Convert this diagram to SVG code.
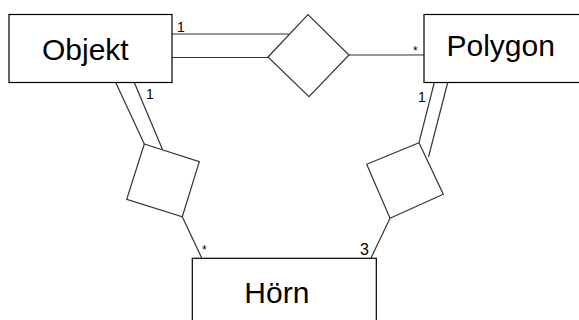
<svg xmlns="http://www.w3.org/2000/svg" width="579" height="320" viewBox="0 0 579 320">
<style>
.box{fill:#fff;stroke:#000;stroke-width:1.2}
.rel{fill:#fff;stroke:#333;stroke-width:1.2}
.ln{fill:none;stroke:#333;stroke-width:1.2}
.lbl{font-family:"Liberation Sans",Arial,sans-serif;font-size:30px;fill:#000}
.m{font-family:"Liberation Sans",Arial,sans-serif;font-size:14px;fill:#000}
.s{font-family:"Liberation Sans",Arial,sans-serif;font-size:12px;fill:#000}
</style>
<rect width="579" height="320" fill="#fff"/>
<g id="connectors">
<line class="ln" x1="172" y1="34" x2="289" y2="34"/>
<line class="ln" x1="172" y1="57.5" x2="268" y2="57.5"/>
<line class="ln" x1="349" y1="55" x2="424" y2="55"/>
<line class="ln" x1="115.7" y1="82.5" x2="144.3" y2="144"/>
<line class="ln" x1="134.3" y1="82.5" x2="162.5" y2="149.5"/>
<line class="ln" x1="182.3" y1="216.7" x2="201.7" y2="258"/>
<line class="ln" x1="434.3" y1="82.5" x2="419" y2="142.7"/>
<line class="ln" x1="447.7" y1="82.5" x2="428.5" y2="157"/>
<line class="ln" x1="390" y1="218.3" x2="371" y2="258"/>
<text class="m" x="177" y="32">1</text>
<text class="m" x="146" y="99">1</text>
<text class="s" x="413" y="55">*</text>
<text class="m" x="418" y="102">1</text>
<text class="s" x="202" y="254">*</text>
<text class="m" x="360" y="255" style="font-size:16px">3</text>
</g>
<g id="rel-objekt-polygon">
<polygon class="rel" points="268,57 308,14.5 349,55 309,96.7"/>
</g>
<g id="rel-objekt-horn">
<polygon class="rel" points="144.3,144 199.3,161.7 182.3,216.7 126.7,199.3"/>
</g>
<g id="rel-polygon-horn">
<polygon class="rel" points="419,142.7 443.3,194.3 390,218.3 366.7,164.3"/>
</g>
<g id="objekt">
<rect class="box" x="9" y="14.5" width="163" height="68"/>
<text class="lbl" x="42" y="60">Objekt</text>
</g>
<g id="polygon">
<rect class="box" x="424" y="14.5" width="170" height="68"/>
<text class="lbl" x="446.5" y="56">Polygon</text>
</g>
<g id="horn">
<rect class="box" x="192.3" y="258.3" width="184" height="80"/>
<text class="lbl" x="244.3" y="303.3">Hörn</text>
</g>
</svg>
